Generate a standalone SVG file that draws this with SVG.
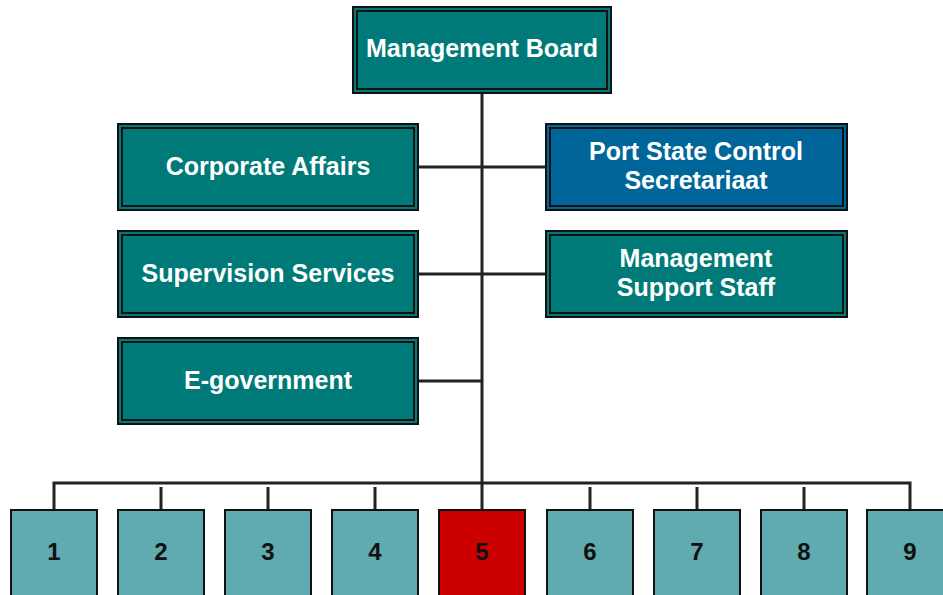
<svg xmlns="http://www.w3.org/2000/svg" width="943" height="595" viewBox="0 0 943 595">
<style>
.box{fill:#007A78;stroke:#111;stroke-width:2}
.blue{fill:#006699}
.in{fill:none;stroke:#111;stroke-width:2}
.t{font-family:"Liberation Sans",Arial,sans-serif;font-weight:bold;font-size:25px;fill:#fff;text-anchor:middle}
.sq{fill:#5FABB0;stroke:#111;stroke-width:2}
.red{fill:#CC0000}
.n{font-family:"Liberation Sans",Arial,sans-serif;font-weight:bold;font-size:24px;fill:#111;text-anchor:middle}
.c{fill:none;stroke:#222;stroke-width:3}
</style>
<g id="connectors">
<path class="c" d="M482 93V510M418 167H546M418 274H546M418 381H482M54 510V483H910V510"/>
<path class="c" d="M161 487V510M268 487V510M375 487V510M590 487V510M697 487V510M804 487V510"/>
</g>
<g id="management-board"><rect class="box" x="353" y="7" width="258" height="86"/><rect class="in" x="357" y="11" width="250" height="78"/><text class="t" x="482" y="57">Management Board</text></g>
<g id="corporate-affairs"><rect class="box" x="118" y="124" width="300" height="86"/><rect class="in" x="122" y="128" width="292" height="78"/><text class="t" x="268" y="175">Corporate Affairs</text></g>
<g id="supervision-services"><rect class="box" x="118" y="231" width="300" height="86"/><rect class="in" x="122" y="235" width="292" height="78"/><text class="t" x="268" y="282">Supervision Services</text></g>
<g id="e-government"><rect class="box" x="118" y="338" width="300" height="86"/><rect class="in" x="122" y="342" width="292" height="78"/><text class="t" x="268" y="389">E-government</text></g>
<g id="port-state-control"><rect class="box blue" x="546" y="124" width="301" height="86"/><rect class="in" x="550" y="128" width="293" height="78"/><text class="t" x="696" y="160">Port State Control</text><text class="t" x="696" y="189">Secretariaat</text></g>
<g id="management-support-staff"><rect class="box" x="546" y="231" width="301" height="86"/><rect class="in" x="550" y="235" width="293" height="78"/><text class="t" x="696" y="267">Management</text><text class="t" x="696" y="296">Support Staff</text></g>
<g id="unit-1"><rect class="sq" x="11" y="510" width="86" height="90"/><text class="n" x="54" y="560">1</text></g>
<g id="unit-2"><rect class="sq" x="118" y="510" width="86" height="90"/><text class="n" x="161" y="560">2</text></g>
<g id="unit-3"><rect class="sq" x="225" y="510" width="86" height="90"/><text class="n" x="268" y="560">3</text></g>
<g id="unit-4"><rect class="sq" x="332" y="510" width="86" height="90"/><text class="n" x="375" y="560">4</text></g>
<g id="unit-5"><rect class="sq red" x="439" y="510" width="86" height="90"/><text class="n" x="482" y="560">5</text></g>
<g id="unit-6"><rect class="sq" x="547" y="510" width="86" height="90"/><text class="n" x="590" y="560">6</text></g>
<g id="unit-7"><rect class="sq" x="654" y="510" width="86" height="90"/><text class="n" x="697" y="560">7</text></g>
<g id="unit-8"><rect class="sq" x="761" y="510" width="86" height="90"/><text class="n" x="804" y="560">8</text></g>
<g id="unit-9"><rect class="sq" x="867" y="510" width="86" height="90"/><text class="n" x="910" y="560">9</text></g>
</svg>
